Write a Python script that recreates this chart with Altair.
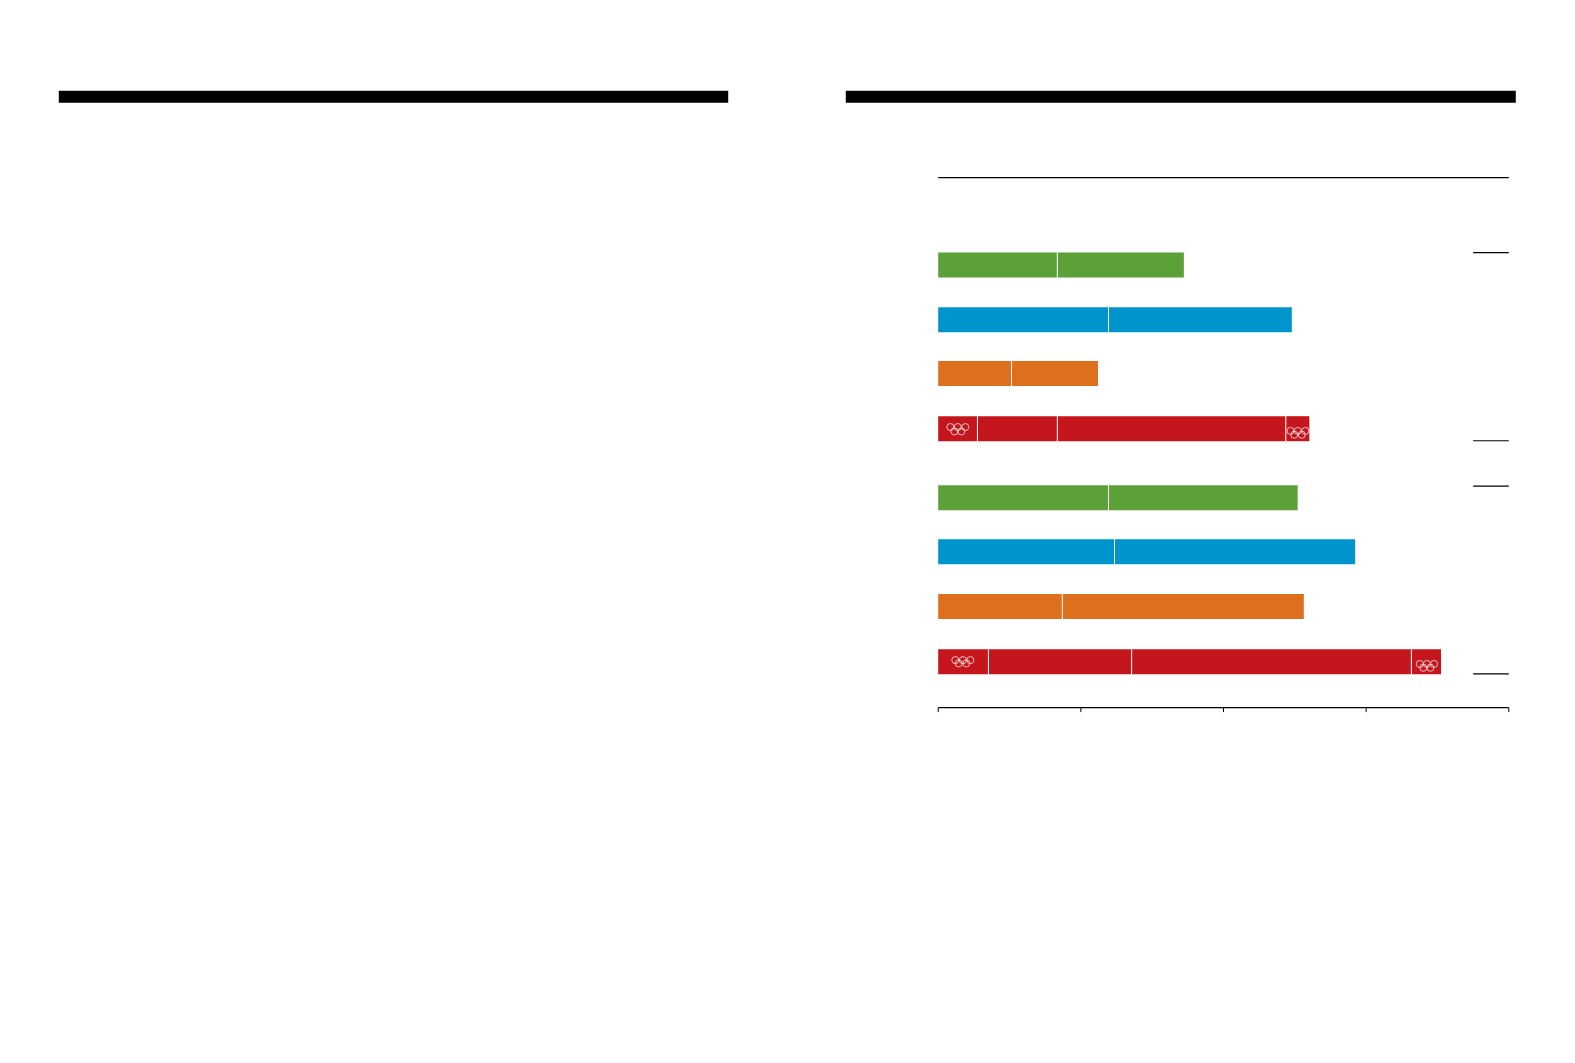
import altair as alt
import pandas as pd

# Row positions (row units) and colours of the eight bars
rows = [0, 1, 1.98, 2.99, 4.25, 5.24, 6.24, 7.25]
colours = ["#5CA038", "#0094CC", "#DE6F1D", "#C4161C", "#5CA038", "#0094CC", "#DE6F1D", "#C4161C"]
# Cumulative segment ends for each bar
bar_ends = [
    [8.35, 17.22],
    [11.94, 24.79],
    [5.14, 11.2],
    [2.75, 8.35, 24.37, 26.02],
    [11.94, 25.2],
    [12.36, 29.23],
    [8.7, 25.63],
    [3.52, 13.56, 33.17, 35.25],
]
ticks = [0, 10, 20, 30, 40]
# Black header bands
bands_x = [(-61.65, -14.72), (-6.48, 40.49)]
band_y = -3.08
# Thin lines: x, x2, y
lines = [
    (0, 40, -1.6),
    (37.5, 40, -0.23),
    (37.5, 40, 3.21),
    (37.5, 40, 4.04),
    (37.5, 40, 7.47),
    (0, 40, 8.09),
]
tick_y = (8.09, 8.17)
# Olympic rings
ring_x = [0.85, 1.37, 1.90, 1.13, 1.62,
          24.70, 25.21, 25.74, 24.96, 25.49,
          1.20, 1.73, 2.25, 1.44, 1.97,
          33.76, 34.26, 34.76, 34.01, 34.51]
ring_y = [2.96, 2.96, 2.96, 3.04, 3.04,
          3.03, 3.03, 3.03, 3.10, 3.10,
          7.22, 7.22, 7.22, 7.28, 7.28,
          7.29, 7.29, 7.29, 7.36, 7.36]

segments, dividers = [], []
for r, c, ends in zip(rows, colours, bar_ends):
    start = 0
    for e in ends:
        segments.append({"row": r, "start": start, "end": e, "colour": c})
        start = e
    for e in ends[:-1]:
        dividers.append({"x": e, "y": r - 0.23, "y2": r + 0.23})

X = alt.Scale(domain=[-65.21, 43.94], range=[0, 1557], padding=0, nice=False, zero=False)
Y = alt.Scale(domain=[-4.70, 14.42], range=[0, 1046], padding=0, nice=False, zero=False)
x = lambda f: alt.X(f, type="quantitative", scale=X, axis=None)
y = lambda f: alt.Y(f, type="quantitative", scale=Y, axis=None)

band_df = pd.DataFrame([{"x": a, "x2": b, "y": band_y} for a, b in bands_x])
bands = alt.Chart(band_df).mark_bar(orient="horizontal", size=12, color="black").encode(
    x=x("x"), x2="x2", y=y("y"))

bars = alt.Chart(pd.DataFrame(segments)).mark_bar(orient="horizontal", size=25).encode(
    x=x("start"), x2="end", y=y("row"),
    color=alt.Color("colour:N", scale=None))

divs = alt.Chart(pd.DataFrame(dividers)).mark_rule(color="white", size=1).encode(
    x=x("x"), y=y("y"), y2="y2")

line_df = pd.DataFrame([{"x": a, "x2": b, "y": c} for a, b, c in lines])
thin = alt.Chart(line_df).mark_rule(color="black", size=1.2).encode(
    x=x("x"), x2="x2", y=y("y"))

tick_df = pd.DataFrame([{"x": t, "y": tick_y[0], "y2": tick_y[1]} for t in ticks])
tick_marks = alt.Chart(tick_df).mark_rule(color="black", size=1).encode(
    x=x("x"), y=y("y"), y2="y2")

rings = alt.Chart(pd.DataFrame({"x": ring_x, "y": ring_y})).mark_point(
    shape="circle", filled=False, color="white", size=50, strokeWidth=0.8, opacity=0.9
).encode(x=x("x"), y=y("y"))

chart = alt.layer(bands, bars, divs, thin, tick_marks, rings).properties(
    width=1550, height=1040, padding=0, autosize=alt.AutoSizeParams(type="none"),
    background="white"
).configure_view(stroke=None)

chart.save("out.html", embed_options={"renderer": "svg", "actions": False})
